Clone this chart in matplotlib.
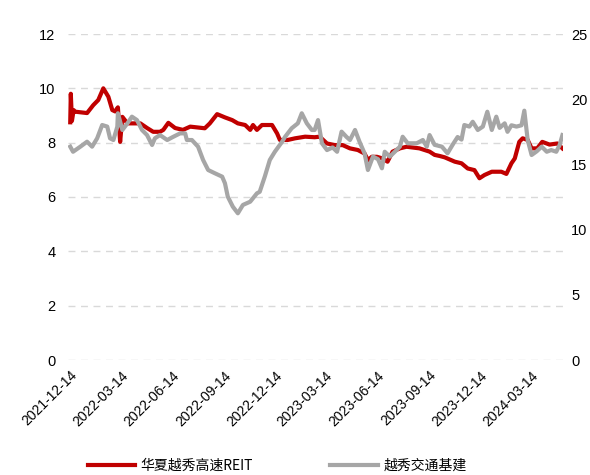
import matplotlib
matplotlib.use("Agg")
import matplotlib.pyplot as plt
import pandas as pd

plt.rcParams['font.family'] = ['Liberation Sans', 'Noto Sans CJK SC', 'DejaVu Sans']

series_names = ["华夏越秀高速REIT", "越秀交通基建"]

red_dates = ["2021-12-14", "2021-12-15", "2021-12-16", "2021-12-17", "2021-12-20", "2021-12-23",
             "2022-01-13", "2022-01-24", "2022-02-02", "2022-02-11", "2022-02-20", "2022-02-27",
             "2022-03-04", "2022-03-09", "2022-03-13", "2022-03-17", "2022-03-26", "2022-04-18",
             "2022-04-30", "2022-05-11", "2022-05-23", "2022-05-29", "2022-06-07", "2022-06-19",
             "2022-07-03", "2022-07-16", "2022-08-11", "2022-08-20", "2022-09-02", "2022-09-16",
             "2022-09-29", "2022-10-09", "2022-10-22", "2022-10-31", "2022-11-05", "2022-11-12",
             "2022-11-21", "2022-12-09", "2022-12-18", "2022-12-23", "2023-01-06", "2023-01-19",
             "2023-02-06", "2023-02-23", "2023-03-04", "2023-03-17", "2023-03-31", "2023-04-14",
             "2023-04-27", "2023-05-11", "2023-05-23", "2023-05-29", "2023-06-05", "2023-06-14",
             "2023-06-24", "2023-07-03", "2023-07-12", "2023-07-25", "2023-08-06", "2023-08-29",
             "2023-09-16", "2023-09-25", "2023-10-04", "2023-10-13", "2023-10-31", "2023-11-12",
             "2023-11-23", "2023-12-05", "2023-12-14", "2023-12-23", "2024-01-05", "2024-01-22",
             "2024-01-31", "2024-02-09", "2024-02-15", "2024-02-23", "2024-02-29", "2024-03-09",
             "2024-03-16", "2024-03-26", "2024-04-04", "2024-04-17", "2024-05-01", "2024-05-10"]
red_values = [8.75, 9.80, 9.30, 8.80, 9.20, 9.14,
              9.09, 9.38, 9.57, 10.00, 9.69, 9.20,
              9.15, 9.30, 8.03, 8.95, 8.71, 8.71,
              8.54, 8.40, 8.40, 8.47, 8.73, 8.54,
              8.47, 8.59, 8.53, 8.71, 9.05, 8.93,
              8.83, 8.71, 8.65, 8.47, 8.65, 8.47,
              8.65, 8.65, 8.34, 8.10, 8.10, 8.16,
              8.22, 8.20, 8.22, 7.97, 7.91, 7.91,
              7.79, 7.73, 7.60, 7.36, 7.48, 7.48,
              7.42, 7.30, 7.67, 7.79, 7.85, 7.79,
              7.67, 7.55, 7.51, 7.46, 7.30, 7.24,
              7.05, 6.99, 6.69, 6.81, 6.93, 6.93,
              6.85, 7.24, 7.42, 8.03, 8.16, 8.10,
              7.79, 7.79, 8.03, 7.93, 7.97, 7.79]

gray_dates = ["2021-12-14", "2021-12-19", "2022-01-01", "2022-01-13", "2022-01-22", "2022-01-31",
              "2022-02-09", "2022-02-18", "2022-02-23", "2022-03-01", "2022-03-08", "2022-03-09",
              "2022-03-17", "2022-03-26", "2022-04-03", "2022-04-12", "2022-04-21", "2022-04-30",
              "2022-05-09", "2022-05-14", "2022-05-23", "2022-06-05", "2022-06-15", "2022-06-28",
              "2022-07-07", "2022-07-10", "2022-07-19", "2022-07-30", "2022-08-08", "2022-08-17",
              "2022-08-29", "2022-09-11", "2022-09-16", "2022-09-21", "2022-09-30", "2022-10-09",
              "2022-10-18", "2022-10-31", "2022-11-12", "2022-11-17", "2022-11-26", "2022-12-05",
              "2022-12-14", "2022-12-27", "2023-01-01", "2023-01-13", "2023-01-24", "2023-01-31",
              "2023-02-09", "2023-02-18", "2023-02-23", "2023-03-01", "2023-03-08", "2023-03-17",
              "2023-03-27", "2023-04-04", "2023-04-12", "2023-04-21", "2023-04-27", "2023-05-06",
              "2023-05-14", "2023-05-23", "2023-05-29", "2023-06-07", "2023-06-16", "2023-06-23",
              "2023-06-28", "2023-07-07", "2023-07-16", "2023-07-25", "2023-07-30", "2023-08-08",
              "2023-08-24", "2023-09-04", "2023-09-11", "2023-09-16", "2023-09-25", "2023-10-08",
              "2023-10-18", "2023-10-27", "2023-11-05", "2023-11-12", "2023-11-17", "2023-11-26",
              "2023-12-02", "2023-12-11", "2023-12-20", "2023-12-28", "2024-01-05", "2024-01-13",
              "2024-01-19", "2024-01-28", "2024-02-02", "2024-02-09", "2024-02-18", "2024-02-27",
              "2024-03-03", "2024-03-09", "2024-03-16", "2024-03-25", "2024-04-03", "2024-04-12",
              "2024-04-20", "2024-04-29", "2024-05-05", "2024-05-10"]
gray_values = [16.36, 15.97, 16.36, 16.74, 16.36, 17.00,
               18.02, 17.90, 17.00, 16.87, 17.90, 18.92,
               17.64, 18.15, 18.66, 18.40, 17.64, 17.25,
               16.49, 17.00, 17.25, 16.87, 17.10, 17.38,
               17.38, 16.87, 16.87, 16.36, 15.34, 14.57,
               14.32, 14.06, 13.55, 12.53, 11.76, 11.25,
               11.89, 12.14, 12.78, 12.90, 14.06, 15.34,
               15.97, 16.74, 17.10, 17.77, 18.15, 18.92,
               18.15, 17.64, 17.64, 18.40, 16.62, 16.10,
               16.30, 15.97, 17.51, 17.10, 16.87, 17.64,
               16.74, 15.85, 14.57, 15.60, 15.40, 14.70,
               15.97, 15.60, 15.97, 16.36, 17.12, 16.62,
               16.62, 16.87, 16.36, 17.25, 16.50, 16.36,
               15.85, 16.50, 17.10, 16.90, 18.02, 17.90,
               18.27, 17.64, 17.90, 19.04, 17.64, 18.66,
               17.80, 18.15, 17.50, 18.00, 17.90, 18.00,
               19.12, 16.87, 15.72, 16.00, 16.36, 15.97,
               16.10, 15.97, 16.49, 17.25]

tick_dates = ["2021-12-14", "2022-03-14", "2022-06-14", "2022-09-14", "2022-12-14",
              "2023-03-14", "2023-06-14", "2023-09-14", "2023-12-14", "2024-03-14"]
left_ticks = [0, 2, 4, 6, 8, 10, 12]
right_ticks = [0, 5, 10, 15, 20, 25]

fig = plt.figure(figsize=(5.9, 4.75), dpi=100)
ax = fig.add_axes([68/590, 1-360/475, (563-68)/590, (360-34)/475])
ax2 = ax.twinx()

rd = pd.to_datetime(red_dates)
gd = pd.to_datetime(gray_dates)
l1, = ax.plot(rd, red_values, color="#C00000", lw=3.0, solid_joinstyle="round")
l2, = ax2.plot(gd, gray_values, color="#A6A6A6", lw=3.0, solid_joinstyle="round")

ax.set_ylim(0, 12)
ax2.set_ylim(0, 25)
ax.set_yticks(left_ticks)
ax2.set_yticks(right_ticks)
ax.set_xlim(pd.Timestamp("2021-12-10"), pd.Timestamp("2024-05-11"))

td = pd.to_datetime(tick_dates)
ax.set_xticks(td)
ax.set_xticklabels(tick_dates, rotation=45, ha="right", rotation_mode="anchor",
                   fontsize=10)

ax.grid(axis="y", linestyle=(0, (5, 4)), color="#D9D9D9", lw=1)
ax.set_axisbelow(True)
for a in (ax, ax2):
    for s in a.spines.values():
        s.set_visible(False)
    a.tick_params(length=0, labelsize=10.5)
ax.tick_params(axis="y", pad=9)
ax2.tick_params(axis="y", pad=6)
ax.tick_params(axis="x", pad=6, labelsize=10)

fig.legend([l1, l2], series_names, loc="center", bbox_to_anchor=(277/590, 1-466/475),
           ncol=2, frameon=False, handlelength=3.4, handletextpad=0.4,
           columnspacing=5.6, prop={"family": ["Noto Sans CJK SC", "DejaVu Sans"], "size": 10})

fig.savefig("out.png", dpi=100)
